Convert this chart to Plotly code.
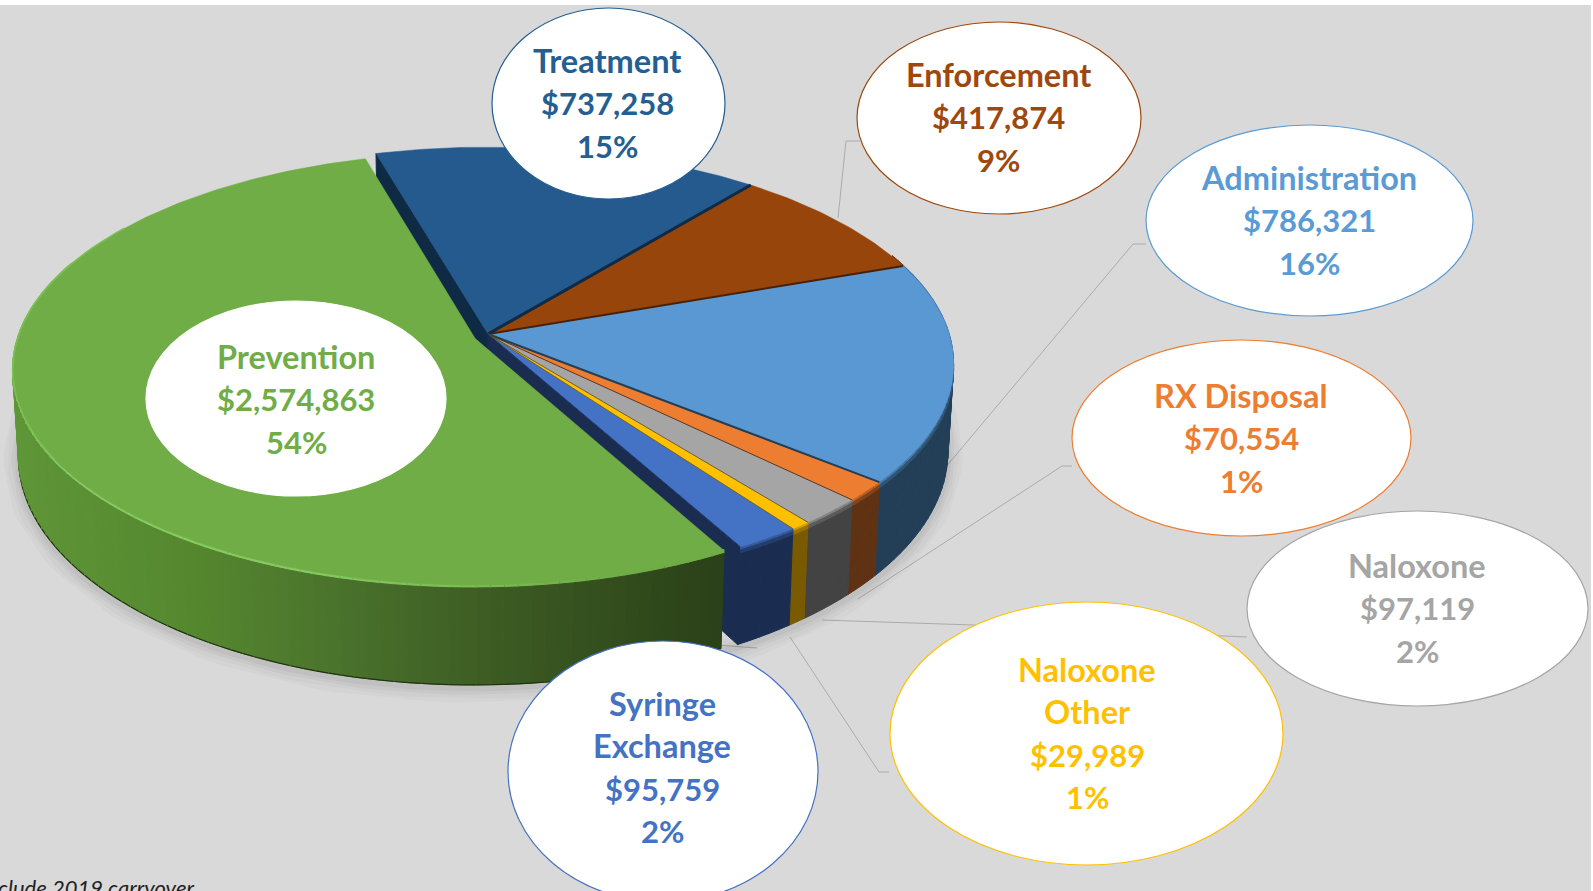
import numpy as np
import plotly.graph_objects as go

# ---- data ----
categories = ["Treatment", "Enforcement", "Administration", "RX Disposal", "Naloxone",
              "Naloxone Other", "Syringe Exchange", "Prevention"]
amounts = [737258, 417874, 786321, 70554, 97119, 29989, 95759, 2574863]
label_lines = [["Treatment"], ["Enforcement"], ["Administration"], ["RX Disposal"], ["Naloxone"],
               ["Naloxone", "Other"], ["Syringe", "Exchange"], ["Prevention"]]
footnote = "clude 2019 carryover"

# ---- style ----
face_colors = ["#245A8D", "#98450B", "#5A98D4", "#ED7D31", "#A5A5A5", "#FFC000", "#4472C4", "#70AD47"]
text_colors = ["#255E91", "#9E480E", "#5B9BD5", "#ED7D31", "#A5A5A5", "#FFC000", "#4472C4", "#70AD47"]
wall_colors = ["#0E2A44", "#4A2005", "#233F57", "#5F3214", "#434343", "#7A5A00", "#1A2C50", "#3F5F25"]
# bubble boxes: left, right, top, bottom, and first text line
bubbles = [(492, 725, 8, 199, 60), (857, 1141, 22, 214, 74), (1146, 1473, 125, 316, 177),
           (1072, 1411, 340, 536, 395), (1247, 1588, 511, 706, 565), (890, 1283, 602, 865, 669),
           (508, 818, 641, 902, 703), (146, 446, 301, 496, 356)]
line_step = 42.8
text_x = [607, 998, 1309, 1241, 1417, 1087, 662, 296]
leaders = [[(838, 218), (846, 141), (860, 141)],
           [(1146, 244), (1133, 244), (945, 468)],
           [(1072, 466), (1062, 466), (858, 599)],
           [(822, 620), (973, 625), (1247, 637)],
           [(889, 772), (879, 772), (790, 637)],
           [(717, 645), (757, 648)]]

# ---- projection ----
CX, CY, R, K, P, BASE = 488.0, 334.0, 461.0, 213.0, 0.14, 0.988
THETA0 = -16.0
EXPLODE = 0.03
EXPLODE_RADIUS = 0.99
EXPLODE_DROP = 0.01


def proj(theta, r=1.0, shift=(0.0, 0.0)):
    t = np.radians(theta)
    u = r * np.sin(t) + shift[0]
    v = r * np.cos(t) + shift[1]
    s = 1.0 / (1.0 + P * v)
    return CX + R * u * s, CY - K * v * s


def base(x, y):
    return CX + (x - CX) * BASE, y + 94 + (y - 486) * 0.06


def hex2rgb(c):
    return np.array([int(c[i:i + 2], 16) for i in (1, 3, 5)], float)


def mix(a, b, t):
    m = hex2rgb(a) * (1 - t) + hex2rgb(b) * t
    return "rgb(%d,%d,%d)" % tuple(m.round())


vals = np.array(amounts, float)
frac = vals / vals.sum()
edges = THETA0 + np.concatenate([[0], np.cumsum(frac)]) * 360
mid = np.radians((edges[-2] + edges[-1]) / 2)
shifts = [(0.0, 0.0)] * 7 + [(EXPLODE * np.sin(mid), EXPLODE * np.cos(mid) - EXPLODE_DROP)]
radii = [1.0] * 7 + [EXPLODE_RADIUS]

fig = go.Figure()


def poly(xs, ys, color, lw=1.0):
    xs, ys = list(xs), list(ys)
    fig.add_trace(go.Scatter(x=xs + xs[:1], y=ys + ys[:1], mode="lines", fill="toself", fillcolor=color,
                             line=dict(color=color, width=lw), hoverinfo="skip", showlegend=False))


def path(xs, ys, color, width):
    fig.add_trace(go.Scatter(x=xs, y=ys, mode="lines", line=dict(color=color, width=width),
                             hoverinfo="skip", showlegend=False))


# leader lines
for pts in leaders:
    path([p[0] for p in pts], [p[1] for p in pts], "#ABABAB", 1)

# soft shadow under the base
sh_t = np.arange(75, 292, 2.0)
sx, sy = [], []
for t in sh_t:
    big = t > edges[-2]
    a, b = proj(t, radii[7] if big else 1.0, shifts[7] if big else shifts[0])
    a, b = base(a, b)
    sx.append(a)
    sy.append(b + 3)
for w, al in [(30, 0.018), (22, 0.025), (14, 0.03), (7, 0.04)]:
    path(sx, sy, "rgba(0,0,0,%g)" % al, w)

# cut faces seen through the gap beside the exploded slice
for idx, th in [(0, edges[0]), (6, edges[7])]:
    x1, y1 = proj(th)
    bx1, by1 = base(x1, y1)
    bx0, by0 = base(CX, CY)
    poly([CX, x1, bx1, bx0], [CY, y1, by1, by0], wall_colors[idx])

# outer walls
STEP = 1.5
green_x = np.array([20, 200, 330, 470, 720], float)
green_c = ["#5F9638", "#55872F", "#4B742D", "#3F5F25", "#2B4119"]
green_rgb = np.array([hex2rgb(c) for c in green_c])
segs = []
for i in range(8):
    a0, a1 = edges[i], edges[i + 1]
    n = max(1, int(np.ceil((a1 - a0) / STEP)))
    ang = np.linspace(a0, a1, n + 1)
    for t0, t1 in zip(ang[:-1], ang[1:]):
        tm = (t0 + t1) / 2
        if np.cos(np.radians(tm)) > 0.38:
            continue
        segs.append((np.cos(np.radians(tm)), i, t0, t1))
segs.sort(key=lambda q: -q[0])
for _, i, t0, t1 in segs:
    sft = shifts[i]
    x0, y0 = proj(t0, radii[i], sft)
    x1, y1 = proj(t1, radii[i], sft)
    b0 = base(x0, y0)
    b1 = base(x1, y1)
    xm = (x0 + x1) / 2
    if i == 7:
        col = "rgb(%d,%d,%d)" % tuple(np.interp(xm, green_x, green_rgb[:, j]) for j in range(3))
        hi = float(np.clip((xm - 300) / 330, 0, 1))
        band_a = mix("#86CB62", "#70AD47", hi)
        band_b = col
        bot = "#1F3310"
    else:
        col = wall_colors[i]
        band_a = mix(face_colors[i], col, 0.35)
        band_b = mix(face_colors[i], col, 0.75)
        bot = None
    poly([x0, x1, b1[0], b0[0]], [y0, y1, b1[1], b0[1]], col)
    poly([x0, x1, x1, x0], [y0 - 1, y1 - 1, y1 + 3, y0 + 3], band_a)
    poly([x0, x1, x1, x0], [y0 + 3, y1 + 3, y1 + 6, y0 + 6], band_b)
    if bot:
        path([b0[0], b1[0]], [b0[1], b1[1]], bot, 1.2)

# top faces
for i in range(8):
    ang = np.arange(edges[i], edges[i + 1], 1.0).tolist() + [edges[i + 1]]
    xs, ys = proj(np.array(ang), radii[i], shifts[i])
    ax, ay = proj(0.0, 0.0, shifts[i])
    poly([ax] + list(xs), [ay] + list(ys), face_colors[i], 0.5)

# cut edges between the slices
for i, w in zip(range(7), [3, 2, 2, 1, 0.8, 0.8, 0.8]):
    x1, y1 = proj(edges[i + 1])
    path([CX, x1], [CY, y1], wall_colors[i], w)

# light rim on the upper left of the large slice
ang = np.arange(238, 305, 2.0)
xs, ys = proj(ang, radii[7], shifts[7])
path(xs, ys, "#7CBF55", 1.6)

# bubbles + text
shapes = [dict(type="rect", xref="x", yref="y", x0=0, x1=1591, y0=5, y1=891,
               fillcolor="#D9D9D9", line_width=0, layer="below")]
annotations = []
for i, (l, r, t, b, y0) in enumerate(bubbles):
    shapes.append(dict(type="circle", xref="x", yref="y", x0=l, x1=r, y0=t, y1=b, fillcolor="white",
                       line=dict(color=text_colors[i] if i != 7 else "white", width=1.2), layer="above"))
    names = label_lines[i]
    lines = names + [f"${amounts[i]:,}", f"{round(frac[i] * 100)}%"]
    for j, s in enumerate(lines):
        annotations.append(dict(x=text_x[i], y=y0 + j * line_step, xref="x", yref="y", text=f"<b>{s}</b>",
                                showarrow=False, xanchor="center", yanchor="middle",
                                font=dict(family="Lato", size=32.5 if j < len(names) else 31,
                                          color=text_colors[i])))
annotations.append(dict(x=196, y=887, xref="x", yref="y", text=f"<i>{footnote}</i>", showarrow=False,
                        xanchor="right", yanchor="middle",
                        font=dict(family="Lato", size=22, color="#222222")))

fig.update_layout(width=1593, height=891, margin=dict(l=0, r=0, t=0, b=0), autosize=False,
                  paper_bgcolor="white", plot_bgcolor="rgba(0,0,0,0)", shapes=shapes,
                  annotations=annotations, showlegend=False,
                  xaxis=dict(range=[0, 1593], visible=False, fixedrange=True),
                  yaxis=dict(range=[891, 0], visible=False, fixedrange=True))
fig.write_html("out.html", config=dict(displayModeBar=False),
               post_script="document.body.style.margin='0';document.documentElement.style.overflow='hidden';")
